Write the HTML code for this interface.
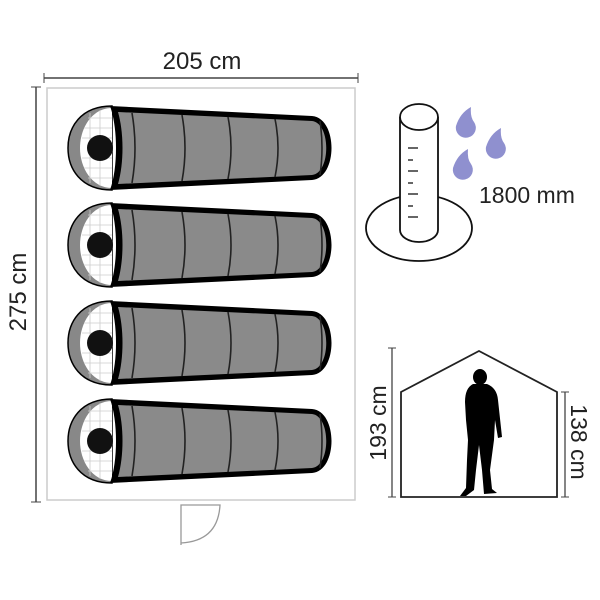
<!DOCTYPE html>
<html><head><style>body{margin:0;background:#fff}svg{display:block}</style></head><body>
<svg width="600" height="600" viewBox="0 0 600 600" xmlns="http://www.w3.org/2000/svg" font-family="Liberation Sans, sans-serif">
<defs>
<g id="bag">
  <path d="M112,-42 C80,-42 68,-20 68,0 C68,20 80,42 112,42 Z" fill="#888" stroke="#000" stroke-width="1.5"/>
  <path d="M112,-40 C92,-40 80,-20 80,0 C80,20 92,40 112,40 Z" fill="#fff"/>
  <g stroke="#ccc" stroke-width="0.8">
    <line x1="90" y1="-35" x2="90" y2="35"/><line x1="100" y1="-38" x2="100" y2="38"/><line x1="84" y1="-20" x2="112" y2="-20"/><line x1="82" y1="-10" x2="112" y2="-10"/><line x1="82" y1="10" x2="112" y2="10"/><line x1="84" y1="20" x2="112" y2="20"/><line x1="88" y1="30" x2="112" y2="30"/><line x1="88" y1="-30" x2="112" y2="-30"/>
  </g>
  <circle cx="100" cy="0" r="13" fill="#111"/>
  <path d="M110,-42 L312,-32 C338,-30 338,30 312,32 L110,42 C118,20 118,-20 110,-42 Z" fill="#000"/>
  <path d="M118,-36 L312,-27 C331,-25 331,25 312,27 L118,36 C124,15 124,-15 118,-36 Z" fill="#8a8a8a"/>
  <g stroke="#222" stroke-width="1.6" fill="none">
    <path d="M132,-35 Q138,0 132,35"/><path d="M182,-33 Q188,0 182,33"/><path d="M228,-31 Q234,0 228,31"/><path d="M275,-29 Q281,0 275,29"/><path d="M320,-27 Q324,0 320,27"/>
  </g>
</g>
</defs>
<rect x="47" y="88" width="308" height="412" fill="none" stroke="#ccc" stroke-width="1.5"/>
<line x1="44" y1="78" x2="358" y2="78" stroke="#444" stroke-width="1.5"/>
<line x1="44" y1="73" x2="44" y2="83" stroke="#444"/><line x1="358" y1="73" x2="358" y2="83" stroke="#444"/>
<text x="202" y="69" font-size="24" text-anchor="middle" fill="#222">205 cm</text>
<line x1="36" y1="87" x2="36" y2="502" stroke="#444" stroke-width="1.5"/>
<line x1="31" y1="87" x2="41" y2="87" stroke="#444"/><line x1="31" y1="502" x2="41" y2="502" stroke="#444"/>
<text transform="translate(26,292) rotate(-90)" font-size="24" text-anchor="middle" fill="#222">275 cm</text>
<use href="#bag" y="148"/><use href="#bag" y="245"/><use href="#bag" y="343"/><use href="#bag" y="441"/>
<path d="M181,545 L181,505 L220,505 Q218,541 181,543" fill="none" stroke="#999" stroke-width="1.3"/>
<ellipse cx="419" cy="228" rx="53" ry="33" fill="#fff" stroke="#111" stroke-width="1.8"/>
<path d="M400,117 L400,230 A19,12 0 0 0 438,230 L438,117" fill="#fff" stroke="#111" stroke-width="1.8"/>
<ellipse cx="419" cy="117" rx="19" ry="13" fill="#fff" stroke="#111" stroke-width="1.8"/>
<g stroke="#333" stroke-width="1.5">
<line x1="408" y1="148" x2="418" y2="148"/><line x1="408" y1="160" x2="413" y2="160"/><line x1="408" y1="171" x2="418" y2="171"/><line x1="408" y1="183" x2="413" y2="183"/><line x1="408" y1="194" x2="418" y2="194"/><line x1="408" y1="206" x2="413" y2="206"/><line x1="408" y1="217" x2="418" y2="217"/>
</g>
<g fill="#8f90cf">
<path d="M471,107 Q470,117 474,122 A10,10 0 1 1 456,126 Q460,113 471,107Z"/>
<path d="M501,128 Q500,138 504,143 A10,10 0 1 1 486,147 Q490,134 501,128Z"/>
<path d="M468,149 Q467,159 471,164 A10,10 0 1 1 453,168 Q457,155 468,149Z"/>
</g>
<text x="479" y="203" font-size="23" fill="#222">1800 mm</text>
<path d="M401,497 L401,392 L479,351 L557,392 L557,497 Z" fill="#fff" stroke="#222" stroke-width="1.8"/>
<line x1="392" y1="348" x2="392" y2="497" stroke="#444" stroke-width="1.3"/>
<line x1="388" y1="348" x2="396" y2="348" stroke="#444"/><line x1="388" y1="497" x2="396" y2="497" stroke="#444"/>
<line x1="565" y1="392" x2="565" y2="497" stroke="#444" stroke-width="1.3"/>
<line x1="561" y1="392" x2="569" y2="392" stroke="#444"/><line x1="561" y1="497" x2="569" y2="497" stroke="#444"/>
<text transform="translate(386,423) rotate(-90)" font-size="23" text-anchor="middle" fill="#222">193 cm</text>
<text transform="translate(571,442) rotate(90)" font-size="23" text-anchor="middle" fill="#222">138 cm</text>
<g fill="#000">
<ellipse cx="480" cy="377" rx="7" ry="8"/>
<path d="M473,384 L487,384 Q497,388 498,400 L502,437 L498,438 L495,420 L494,440 L490,470 L492,489 L497,493 L484,494 L482,470 L479,445 L476,470 L474,490 L466,496 L460,496 L466,488 L467,460 L468,440 L466,420 L465,402 Q465,388 473,384Z"/>
</g>
</svg>
</body></html>
